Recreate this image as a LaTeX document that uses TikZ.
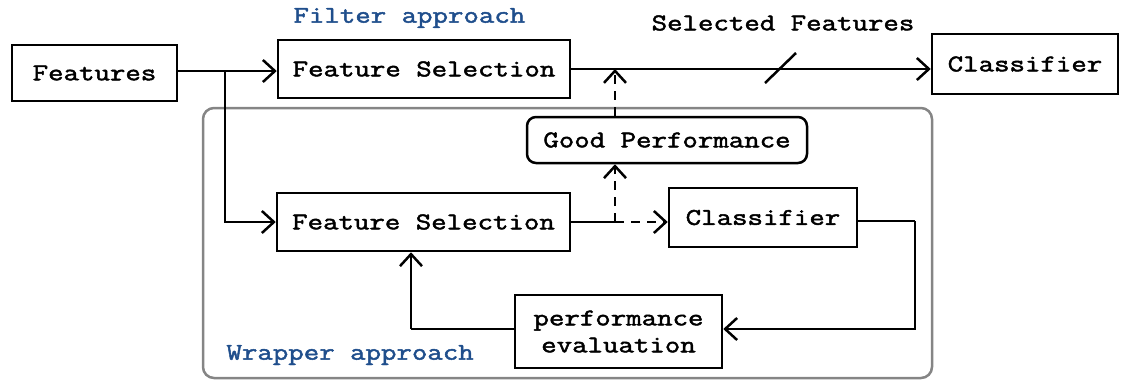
\documentclass[tikz,border=0pt]{standalone}
\usepackage{fontspec}
\setmonofont{Latin Modern Mono}[FakeStretch=1.25, FakeBold=2]
\usetikzlibrary{arrows.meta}
\definecolor{labelblue}{HTML}{1F4E8C}
\definecolor{framegray}{HTML}{858585}
\tikzset{
  txt/.style={font=\fontsize{24}{27}\selectfont\ttfamily},
  blockbox/.style={txt, draw=black, line width=2.5pt, fill=white, inner sep=0pt, align=center},
  flow/.style={draw=black, line width=2.5pt},
  arr/.style={-{Straight Barb[length=12pt,width=22pt,line width=2.5pt]}},
  dashflow/.style={flow, dash pattern=on 9pt off 7pt},
  approach/.style={txt, text=labelblue, anchor=west}
}
\begin{document}
\begin{tikzpicture}[x=1pt, y=-1pt]
\useasboundingbox (0,0) rectangle (1122,381);

% wrapper frame
\draw[framegray, line width=2.5pt, rounded corners=11pt] (203,108) rectangle (932,378);

% blocks
\node[blockbox, minimum width=165pt, minimum height=56pt] (feat) at (94.5,73) {Features};
\node[blockbox, minimum width=292pt, minimum height=58pt] (fs1) at (424,69) {Feature Selection};
\node[blockbox, minimum width=186pt, minimum height=60pt] (clf1) at (1025,64) {Classifier};
\node[blockbox, minimum width=280pt, minimum height=46pt, rounded corners=9pt] (gp) at (667,140) {Good Performance};
\node[blockbox, minimum width=293pt, minimum height=58pt] (fs2) at (423.5,222) {Feature Selection};
\node[blockbox, minimum width=188pt, minimum height=59pt] (clf2) at (763,217.5) {Classifier};
\node[blockbox, minimum width=207pt, minimum height=73pt] (pe) at (618.5,331.5) {performance\\evaluation};

% labels
\node[approach] (filt) at (290,18) {Filter approach};
\node[approach] (wrap) at (223,355) {Wrapper approach};
\node[txt] (sel) at (783,23) {Selected Features};

% junction points
\coordinate (br) at (225,71);
\coordinate (jlow) at (615,222);
\coordinate (jtop) at (615,69);
\coordinate (fb) at (411,329);
\coordinate (rt) at (915,221);

% filter path
\draw[flow] (feat.east |- br) -- (br);
\draw[flow, arr] (br) -- (br -| fs1.west);
\draw[flow, arr] (fs1.east |- jtop) -- (jtop -| clf1.west);
\draw[flow] (765,83) -- (796,53);

% wrapper path
\draw[flow, arr] (br) |- (fs2.west);
\draw[flow] (fs2.east |- jlow) -- (jlow);
\draw[dashflow, arr] (jlow) -- (jlow -| clf2.west);
\draw[dashflow, arr] (jlow) -- (jlow |- gp.south);
\draw[dashflow, arr] (jlow |- gp.north) -- (jtop);
\draw[flow] (clf2.east |- rt) -- (rt);
\draw[flow, arr] (rt) |- (fb -| pe.east);
\draw[flow] (pe.west |- fb) -- (fb);
\draw[flow, arr] (fb) -- (fb |- fs2.south);
\end{tikzpicture}
\end{document}
